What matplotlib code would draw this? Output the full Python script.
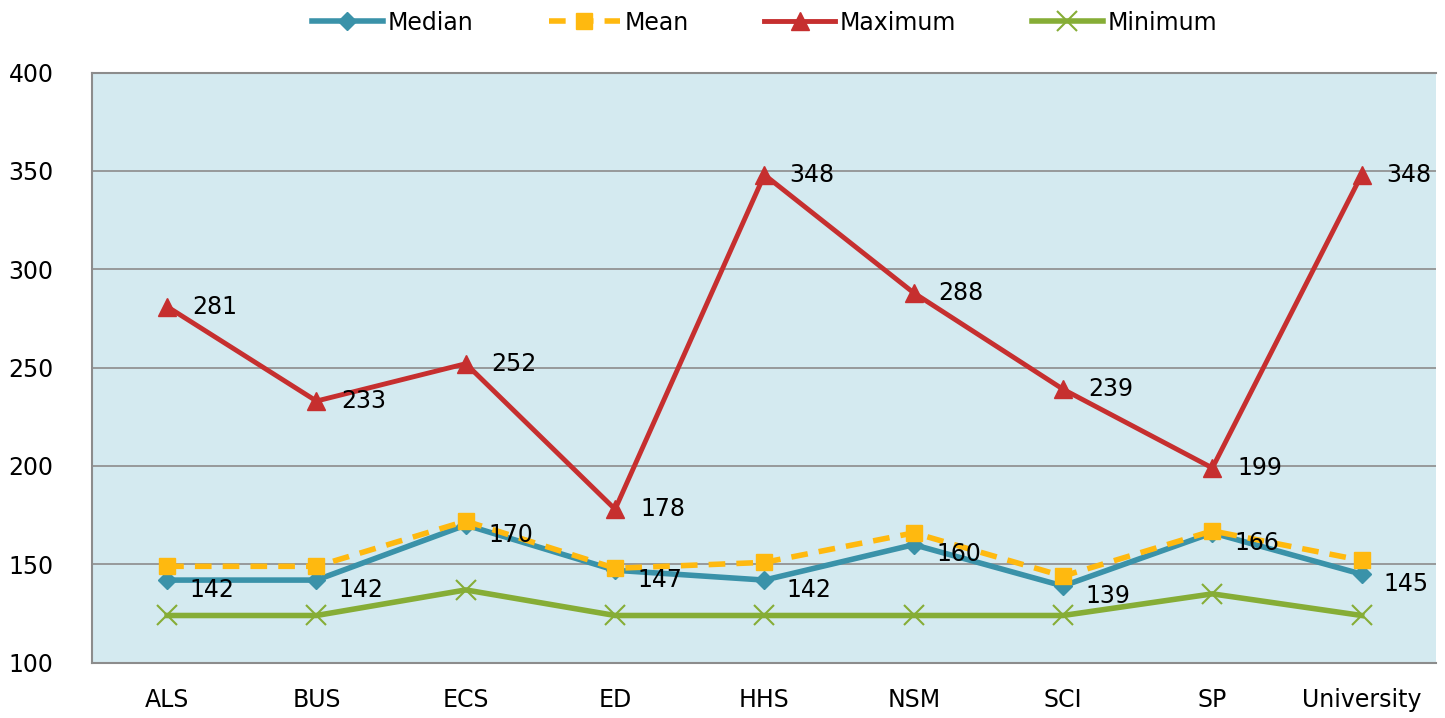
import numpy as np
import matplotlib.pyplot as plt

categories = ['ALS', 'BUS', 'ECS', 'ED', 'HHS', 'NSM', 'SCI', 'SP', 'University']
median = [142, 142, 170, 147, 142, 160, 139, 166, 145]
mean = [149, 149, 172, 148, 151, 166, 144, 167, 152]
maximum = [281, 233, 252, 178, 348, 288, 239, 199, 348]
minimum = [124, 124, 137, 124, 124, 124, 124, 135, 124]

x = np.arange(len(categories))

fig = plt.figure(figsize=(14.45, 7.18), dpi=100)
ax = fig.add_axes([0.064, 0.077, 0.93, 0.822])
ax.set_facecolor('#D4EAF0')

ax.plot(x, median, color='#3A92A9', lw=4, marker='D', ms=9, label='Median')
ax.plot(x, mean, color='#FFB90F', lw=4, ls=(0, (3, 2)), marker='s', ms=12, label='Mean')
ax.plot(x, maximum, color='#C62F2F', lw=3.5, marker='^', ms=13, label='Maximum')
ax.plot(x, minimum, color='#86AD36', lw=4, marker='x', ms=14, mew=1.5, label='Minimum')

for i in range(len(x)):
    ax.annotate(str(median[i]), (x[i], median[i]), xytext=(16, -7), textcoords='offset points',
                fontsize=17, va='center', ha='left')
    ax.annotate(str(maximum[i]), (x[i], maximum[i]), xytext=(18, 0), textcoords='offset points',
                fontsize=17, va='center', ha='left')

ax.set_xlim(-0.5, 8.5)
ax.set_ylim(100, 400)
ax.set_yticks(np.arange(100, 401, 50))
ax.set_xticks(x)
ax.set_xticklabels(categories)
ax.tick_params(axis='both', length=0, labelsize=17)
ax.tick_params(axis='x', pad=18)
ax.tick_params(axis='y', pad=28)
ax.grid(axis='y', color='#8C8C8C', lw=1.2)
ax.set_axisbelow(True)
for s in ['top', 'left', 'bottom']:
    ax.spines[s].set_color('#8C8C8C')
    ax.spines[s].set_linewidth(1.5)
ax.spines['right'].set_visible(False)

ax.legend(loc='lower center', bbox_to_anchor=(0.5, 1.0), ncol=4, frameon=False, fontsize=17,
          handlelength=3, columnspacing=3.2, handletextpad=0.2, borderaxespad=1.2)

plt.savefig('out.png')
